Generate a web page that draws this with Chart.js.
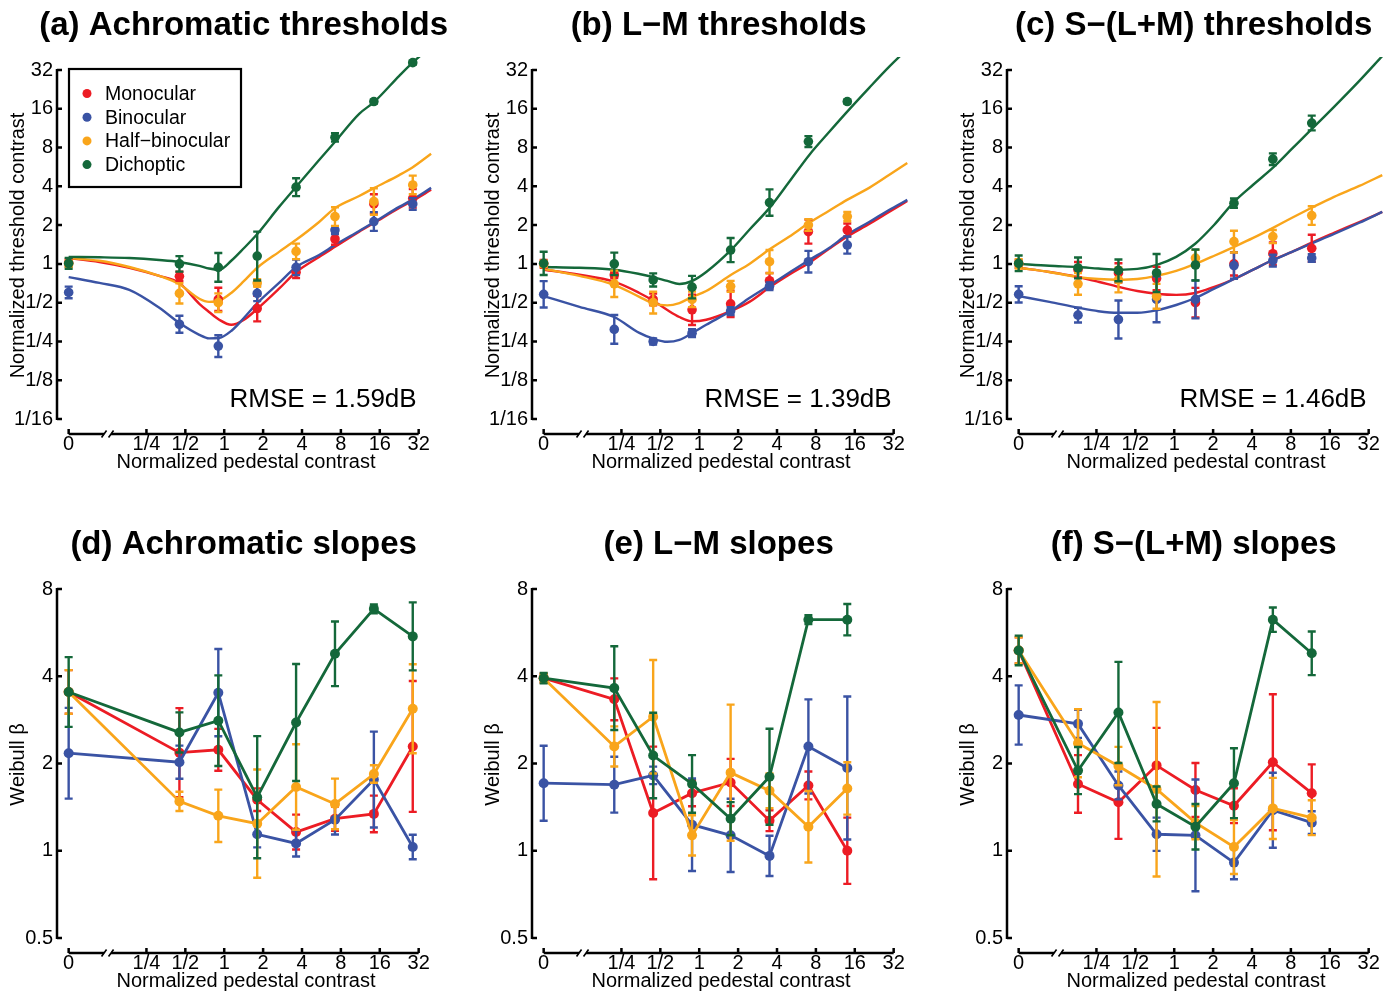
<!DOCTYPE html>
<html>
<head>
<meta charset="utf-8">
<script src="https://cdn.jsdelivr.net/npm/chart.js@4.4.1/dist/chart.umd.min.js"></script>
<style>
  html, body { margin: 0; padding: 0; background: #fff; overflow: hidden; }
  .panel { position: absolute; width: 475px; height: 476px; }
</style>
</head>
<body>
<div class="panel" style="left:0;top:0"><canvas id="pa"></canvas></div>
<div class="panel" style="left:475px;top:0"><canvas id="pb"></canvas></div>
<div class="panel" style="left:950px;top:0"><canvas id="pc"></canvas></div>
<div class="panel" style="left:0;top:519px"><canvas id="pd"></canvas></div>
<div class="panel" style="left:475px;top:519px"><canvas id="pe"></canvas></div>
<div class="panel" style="left:950px;top:519px"><canvas id="pf"></canvas></div>
<script>
const seriesNames = ['Monocular', 'Binocular', 'Half\u2212binocular', 'Dichoptic'];
const seriesColours = ['#ec1c24', '#3a53a4', '#f9a51b', '#14683a'];

// axis ticks
const pedestalTicks = [0, 1/4, 1/2, 1, 2, 4, 8, 16, 32];
const pedestalLabels = ['0', '1/4', '1/2', '1', '2', '4', '8', '16', '32'];
const thresholdTicks = [1/16, 1/8, 1/4, 1/2, 1, 2, 4, 8, 16, 32];
const thresholdLabels = ['1/16', '1/8', '1/4', '1/2', '1', '2', '4', '8', '16', '32'];
const slopeTicks = [0.5, 1, 2, 4, 8];
const slopeLabels = ['0.5', '1', '2', '4', '8'];

// normalized pedestal contrasts per colour condition (0 = no pedestal)
const pedestalsAch = [0, 0.45, 0.9, 1.8, 3.6, 7.2, 14.4, 28.8];
const pedestalsLM = [0, 0.22, 0.44, 0.88, 1.75, 3.5, 7, 14];
const pedestalsS = [0, 0.18, 0.37, 0.73, 1.46, 2.9, 5.8, 11.6];

// normalized thresholds, rows: monocular, binocular, half-binocular, dichoptic
const thrAch = [
  [1.02, 0.80, 0.53, 0.45, 0.86, 1.56, 2.92, 3.23],
  [0.60, 0.34, 0.23, 0.59, 0.94, 1.83, 2.13, 2.92],
  [1.00, 0.59, 0.50, 0.71, 1.25, 2.33, 3.05, 4.10],
  [1.01, 1.00, 0.94, 1.15, 3.94, 9.6, 18.2, 36.5]
];
const thrLM = [
  [1.00, 0.82, 0.53, 0.44, 0.49, 0.74, 1.78, 1.83],
  [0.58, 0.31, 0.25, 0.29, 0.43, 0.67, 1.04, 1.40],
  [1.00, 0.70, 0.50, 0.53, 0.67, 1.04, 2.00, 2.33],
  [1.01, 1.00, 0.75, 0.66, 1.28, 2.99, 8.9, 18.2]
];
const thrS = [
  [1.00, 0.90, 0.85, 0.77, 0.50, 1.00, 1.20, 1.32],
  [0.58, 0.40, 0.37, 0.53, 0.53, 0.97, 1.06, 1.11],
  [1.00, 0.70, 0.75, 0.56, 1.11, 1.49, 1.63, 2.37],
  [1.01, 0.93, 0.89, 0.85, 0.98, 2.96, 6.5, 12.4]
];
// error bar half-widths in octaves (log2 units)
const thrErrAch = [
  [0.10, 0.12, 0.30, 0.33, 0.15, 0.15, 0.25, 0.24],
  [0.15, 0.22, 0.28, 0.20, 0.20, 0.10, 0.24, 0.15],
  [0.08, 0.26, 0.24, 0.10, 0.20, 0.24, 0.34, 0.24],
  [0.14, 0.20, 0.37, 0.63, 0.23, 0.11, 0.05, 0.05]
];
const thrErrLM = [
  [0.10, 0.08, 0.15, 0.39, 0.34, 0.20, 0.31, 0.17],
  [0.34, 0.37, 0.08, 0.10, 0.10, 0.10, 0.28, 0.22],
  [0.08, 0.34, 0.28, 0.20, 0.14, 0.30, 0.15, 0.12],
  [0.30, 0.29, 0.17, 0.29, 0.31, 0.34, 0.14, 0.05]
];
const thrErrS = [
  [0.10, 0.20, 0.25, 0.30, 0.38, 0.30, 0.29, 0.35],
  [0.21, 0.19, 0.49, 0.59, 0.49, 0.34, 0.15, 0.10],
  [0.12, 0.28, 0.32, 0.32, 0.21, 0.28, 0.17, 0.24],
  [0.20, 0.27, 0.28, 0.49, 0.40, 0.12, 0.15, 0.19]
];

// fitted model curves, x and y in log2 units
const fitXAch = [-4, -3.21, -2.44, -1.67, -1.16, -0.64, -0.39, -0.13, 0.18, 0.51, 0.85, 1.41, 1.85, 2.44, 2.85, 3.47, 3.86, 4.5, 4.83, 5.32];
const fitAch = [
  [0.15, 0.05, -0.10, -0.31, -0.49, -1.03, -1.24, -1.44, -1.57, -1.44, -1.16, -0.64, -0.21, 0.18, 0.44, 0.83, 1.06, 1.44, 1.62, 1.91],
  [-0.34, -0.49, -0.67, -1.13, -1.52, -1.83, -1.92, -1.91, -1.73, -1.39, -1.01, -0.49, -0.08, 0.23, 0.49, 0.85, 1.08, 1.47, 1.65, 1.96],
  [0.15, 0.08, -0.08, -0.31, -0.52, -0.90, -0.98, -0.95, -0.75, -0.44, -0.10, 0.31, 0.62, 1.08, 1.44, 1.75, 1.96, 2.29, 2.48, 2.84],
  [0.18, 0.17, 0.15, 0.10, 0.05, -0.05, -0.12, -0.15, 0.08, 0.41, 0.77, 1.47, 1.99, 2.68, 3.15, 3.87, 4.18, 4.85, 5.18, 5.60]
];
const fitXLM = [-4, -3.08, -2.19, -1.54, -1.18, -0.82, -0.51, -0.18, 0.18, 0.82, 1.29, 1.83, 2.31, 2.83, 3.34, 3.80, 4.37, 4.88, 5.35];
const fitLM = [
  [-0.15, -0.28, -0.46, -0.75, -0.95, -1.19, -1.37, -1.48, -1.44, -1.21, -0.98, -0.59, -0.28, 0.03, 0.39, 0.70, 1.03, 1.34, 1.62],
  [-0.83, -1.11, -1.37, -1.78, -1.93, -2.01, -1.96, -1.78, -1.57, -1.21, -0.88, -0.54, -0.23, 0.10, 0.41, 0.75, 1.08, 1.39, 1.65],
  [-0.13, -0.31, -0.54, -0.85, -1.02, -1.07, -1.01, -0.85, -0.70, -0.28, 0.00, 0.39, 0.70, 1.06, 1.37, 1.65, 1.96, 2.29, 2.60],
  [-0.08, -0.10, -0.15, -0.26, -0.34, -0.44, -0.52, -0.44, -0.21, 0.36, 0.88, 1.47, 2.11, 2.81, 3.40, 3.92, 4.54, 5.08, 5.54]
];
const fitXS = [-4, -3.21, -2.47, -1.95, -1.44, -0.95, -0.46, 0.05, 0.54, 1.03, 1.54, 2.03, 2.54, 3.03, 3.52, 4.11, 4.76, 5.35];
const fitS = [
  [-0.10, -0.21, -0.34, -0.46, -0.59, -0.70, -0.77, -0.80, -0.75, -0.59, -0.39, -0.15, 0.10, 0.31, 0.54, 0.80, 1.08, 1.34],
  [-0.83, -0.98, -1.13, -1.22, -1.26, -1.26, -1.20, -1.06, -0.88, -0.64, -0.39, -0.15, 0.10, 0.31, 0.52, 0.77, 1.06, 1.34],
  [-0.10, -0.21, -0.34, -0.39, -0.41, -0.39, -0.31, -0.18, 0.00, 0.21, 0.44, 0.67, 0.93, 1.19, 1.44, 1.73, 2.01, 2.29],
  [0.00, -0.05, -0.08, -0.12, -0.15, -0.13, -0.03, 0.18, 0.52, 1.01, 1.60, 2.04, 2.48, 2.97, 3.46, 4.05, 4.72, 5.36]
];

// Weibull slopes (beta)
const slopeAch = [
  [3.53, 2.18, 2.23, 1.50, 1.16, 1.29, 1.34, 2.29],
  [2.17, 2.02, 3.51, 1.14, 1.06, 1.28, 1.76, 1.03],
  [3.53, 1.48, 1.32, 1.24, 1.66, 1.45, 1.84, 3.09],
  [3.53, 2.56, 2.81, 1.53, 2.77, 4.78, 6.83, 5.49]
];
const slopeLM = [
  [3.94, 3.33, 1.35, 1.58, 1.72, 1.27, 1.68, 1.00],
  [1.71, 1.69, 1.82, 1.23, 1.13, 0.96, 2.29, 1.93],
  [3.94, 2.29, 2.90, 1.13, 1.86, 1.61, 1.21, 1.64],
  [3.94, 3.64, 2.13, 1.70, 1.29, 1.80, 6.27, 6.27]
];
const slopeS = [
  [4.91, 1.70, 1.47, 1.97, 1.62, 1.43, 2.02, 1.58],
  [2.94, 2.74, 1.68, 1.14, 1.13, 0.91, 1.38, 1.25],
  [4.91, 2.35, 1.96, 1.63, 1.25, 1.03, 1.40, 1.30],
  [4.91, 1.89, 3.00, 1.45, 1.21, 1.71, 6.27, 4.80]
];
const slopeErrAch = [
  [0.25, 0.51, 0.24, 0.13, 0.20, 0.14, 0.21, 0.75],
  [0.52, 0.19, 0.50, 0.15, 0.15, 0.17, 0.55, 0.14],
  [0.25, 0.11, 0.30, 0.62, 0.49, 0.29, 0.10, 0.51],
  [0.40, 0.23, 0.52, 0.70, 0.67, 0.37, 0.05, 0.39]
];
const slopeErrLM = [
  [0.05, 0.24, 0.76, 0.15, 0.27, 0.12, 0.16, 0.38],
  [0.43, 0.32, 0.10, 0.53, 0.42, 0.23, 0.54, 0.82],
  [0.05, 0.23, 0.65, 0.23, 0.78, 0.20, 0.41, 0.30],
  [0.06, 0.48, 0.49, 0.33, 0.19, 0.55, 0.05, 0.18]
];
const slopeErrS = [
  [0.15, 0.33, 0.42, 0.43, 0.31, 0.20, 0.78, 0.33],
  [0.34, 0.16, 0.16, 0.19, 0.64, 0.19, 0.43, 0.13],
  [0.15, 0.39, 0.22, 1.00, 0.19, 0.31, 0.35, 0.20],
  [0.17, 0.27, 0.58, 0.20, 0.26, 0.40, 0.14, 0.25]
];

const FONT = '"Liberation Sans", Arial, Helvetica, sans-serif';
Chart.defaults.font.family = FONT;
Chart.defaults.color = '#000';

// zero pedestal sits at the 1/16 position, left of the axis break
const xPos = c => c === 0 ? -4 : Math.log2(c);

// vertical error bars in the dataset colour
const errorBars = {
  id: 'errorBars',
  afterDatasetDraw(chart, args) {
    const ds = chart.data.datasets[args.index];
    if (!ds.errLog2) return;
    const { ctx, scales: { x, y } } = chart;
    ctx.save();
    ctx.strokeStyle = ds.borderColor;
    ctx.lineWidth = 2.4;
    ds.data.forEach((pt, i) => {
      const e = ds.errLog2[i];
      const px = x.getPixelForValue(pt.x);
      const top = y.getPixelForValue(pt.y + e);
      const bot = y.getPixelForValue(pt.y - e);
      ctx.beginPath();
      ctx.moveTo(px, top); ctx.lineTo(px, bot);
      ctx.moveTo(px - 4, top); ctx.lineTo(px + 4, top);
      ctx.moveTo(px - 4, bot); ctx.lineTo(px + 4, bot);
      ctx.stroke();
    });
    ctx.restore();
  }
};

// panel title, offset axes with inward ticks, x-axis break, legend box and RMSE note
const panelDecor = {
  id: 'panelDecor',
  afterDraw(chart, args, o) {
    const { ctx, chartArea: ca, scales: { x, y } } = chart;
    ctx.save();
    ctx.strokeStyle = '#000';
    ctx.fillStyle = '#000';
    ctx.lineWidth = 2.5;

    const yTop = y.getPixelForValue(o.yTicks[o.yTicks.length - 1]);
    const yBot = y.getPixelForValue(o.yTicks[0]);
    ctx.beginPath();
    ctx.moveTo(ca.left, yTop - 1); ctx.lineTo(ca.left, yBot + 1);
    o.yTicks.forEach(v => {
      const p = y.getPixelForValue(v);
      ctx.moveTo(ca.left, p); ctx.lineTo(ca.left + 5, p);
    });
    ctx.stroke();

    const yb = ca.bottom;
    const x0 = x.getPixelForValue(xPos(pedestalTicks[0]));
    const x1 = x.getPixelForValue(xPos(pedestalTicks[pedestalTicks.length - 1]));
    const gc = x.getPixelForValue(o.breakAt);
    ctx.beginPath();
    ctx.moveTo(x0, yb); ctx.lineTo(gc - 3.5, yb);
    ctx.moveTo(gc + 3.5, yb); ctx.lineTo(x1, yb);
    pedestalTicks.forEach(v => {
      const p = x.getPixelForValue(xPos(v));
      ctx.moveTo(p, yb); ctx.lineTo(p, yb - 5);
    });
    ctx.stroke();
    ctx.lineWidth = 1.6;
    ctx.beginPath();
    [gc - 3.5, gc + 3.5].forEach(g => {
      ctx.moveTo(g - 2.5, yb + 3.5); ctx.lineTo(g + 2.5, yb - 3.5);
    });
    ctx.stroke();

    ctx.font = 'bold 33px ' + FONT;
    ctx.textAlign = 'center';
    ctx.textBaseline = 'middle';
    ctx.fillText(o.title, (x0 + x1) / 2, ca.top - 31);

    if (o.note) {
      ctx.font = '26px ' + FONT;
      ctx.textAlign = 'right';
      ctx.fillText(o.note, x1 - 2, yBot - 19);
    }

    if (o.legend) {
      const lx = ca.left + 12, ly = ca.top + 12, lw = 172, lh = 118;
      ctx.fillStyle = '#fff';
      ctx.fillRect(lx, ly, lw, lh);
      ctx.lineWidth = 2.2;
      ctx.strokeRect(lx, ly, lw, lh);
      ctx.font = '19.5px ' + FONT;
      ctx.textAlign = 'left';
      seriesNames.forEach((name, s) => {
        const ry = ly + 25.5 + s * 23.7;
        ctx.fillStyle = seriesColours[s];
        ctx.beginPath();
        ctx.arc(lx + 18, ry - 1, 4.5, 0, Math.PI * 2);
        ctx.fill();
        ctx.fillStyle = '#000';
        ctx.fillText(name, lx + 36, ry);
      });
    }
    ctx.restore();
  }
};

Chart.register(errorBars, panelDecor);

function makePanel(id, p) {
  const datasets = [];
  p.values.forEach((vals, s) => {
    datasets.push({
      label: seriesNames[s],
      data: vals.map((v, i) => ({ x: xPos(p.pedestals[i]), y: Math.log2(v) })),
      errLog2: p.errors[s],
      showLine: p.connect,
      borderColor: seriesColours[s],
      backgroundColor: seriesColours[s],
      borderWidth: 2.8,
      pointRadius: p.connect ? 5 : 4.8,
      pointBorderWidth: 0,
      order: 3 - s
    });
  });
  if (p.fits) {
    p.fits.forEach((ys, s) => {
      datasets.push({
        label: seriesNames[s] + ' fit',
        data: ys.map((v, i) => ({ x: p.fitX[i], y: v })),
        showLine: true,
        borderColor: seriesColours[s],
        borderWidth: 2.4,
        pointRadius: 0,
        cubicInterpolationMode: 'monotone',
        order: 13 - s
      });
    });
  }
  const yTicks = p.yTicks.map(Math.log2);
  new Chart(document.getElementById(id), {
    type: 'scatter',
    data: { datasets },
    options: {
      responsive: true,
      maintainAspectRatio: false,
      animation: false,
      events: [],
      layout: { padding: { left: 0, right: 40, top: 57, bottom: 0 } },
      plugins: {
        legend: { display: false },
        tooltip: { enabled: false },
        panelDecor: { title: p.title, yTicks, breakAt: -3, note: p.note, legend: p.legend }
      },
      scales: {
        x: {
          type: 'linear', min: -4.3, max: 5.42, bounds: 'data',
          grid: { display: false, drawTicks: false },
          border: { display: false },
          afterBuildTicks: s => { s.ticks = pedestalTicks.map(v => ({ value: xPos(v) })); },
          afterFit: s => { s.height = 42; },
          ticks: {
            autoSkip: false, maxRotation: 0, padding: 0,
            font: { size: 20, lineHeight: 1 },
            callback: (v, i) => pedestalLabels[i]
          },
          title: {
            display: true, text: 'Normalized pedestal contrast',
            font: { size: 20, lineHeight: 1 },
            padding: { top: 0, bottom: 4 }
          }
        },
        y: {
          type: 'linear', min: p.yMin, max: p.yMax, bounds: 'data',
          grid: { display: false, drawTicks: false },
          border: { display: false },
          afterBuildTicks: s => { s.ticks = yTicks.map(v => ({ value: v })); },
          afterFit: s => { s.width = 57; },
          ticks: {
            autoSkip: false, padding: 4,
            font: { size: 20, lineHeight: 1 },
            callback: (v, i) => p.yLabels[i]
          },
          title: {
            display: true, text: p.yTitle,
            font: { size: 20, lineHeight: 1 },
            padding: { top: 8, bottom: 0 }
          }
        }
      }
    }
  });
}

const thrAxis = { yTicks: thresholdTicks, yLabels: thresholdLabels, yMin: -4.387, yMax: 5.335, yTitle: 'Normalized threshold contrast', connect: false };
const slopeAxis = { yTicks: slopeTicks, yLabels: slopeLabels, yMin: -1.172, yMax: 3.149, yTitle: 'Weibull \u03b2', connect: true };

makePanel('pa', Object.assign({ title: '(a) Achromatic thresholds', pedestals: pedestalsAch, values: thrAch, errors: thrErrAch, fitX: fitXAch, fits: fitAch, note: 'RMSE = 1.59dB', legend: true }, thrAxis));
makePanel('pb', Object.assign({ title: '(b) L\u2212M thresholds', pedestals: pedestalsLM, values: thrLM, errors: thrErrLM, fitX: fitXLM, fits: fitLM, note: 'RMSE = 1.39dB' }, thrAxis));
makePanel('pc', Object.assign({ title: '(c) S\u2212(L+M) thresholds', pedestals: pedestalsS, values: thrS, errors: thrErrS, fitX: fitXS, fits: fitS, note: 'RMSE = 1.46dB' }, thrAxis));
makePanel('pd', Object.assign({ title: '(d) Achromatic slopes', pedestals: pedestalsAch, values: slopeAch, errors: slopeErrAch }, slopeAxis));
makePanel('pe', Object.assign({ title: '(e) L\u2212M slopes', pedestals: pedestalsLM, values: slopeLM, errors: slopeErrLM }, slopeAxis));
makePanel('pf', Object.assign({ title: '(f) S\u2212(L+M) slopes', pedestals: pedestalsS, values: slopeS, errors: slopeErrS }, slopeAxis));
</script>
</body>
</html>
